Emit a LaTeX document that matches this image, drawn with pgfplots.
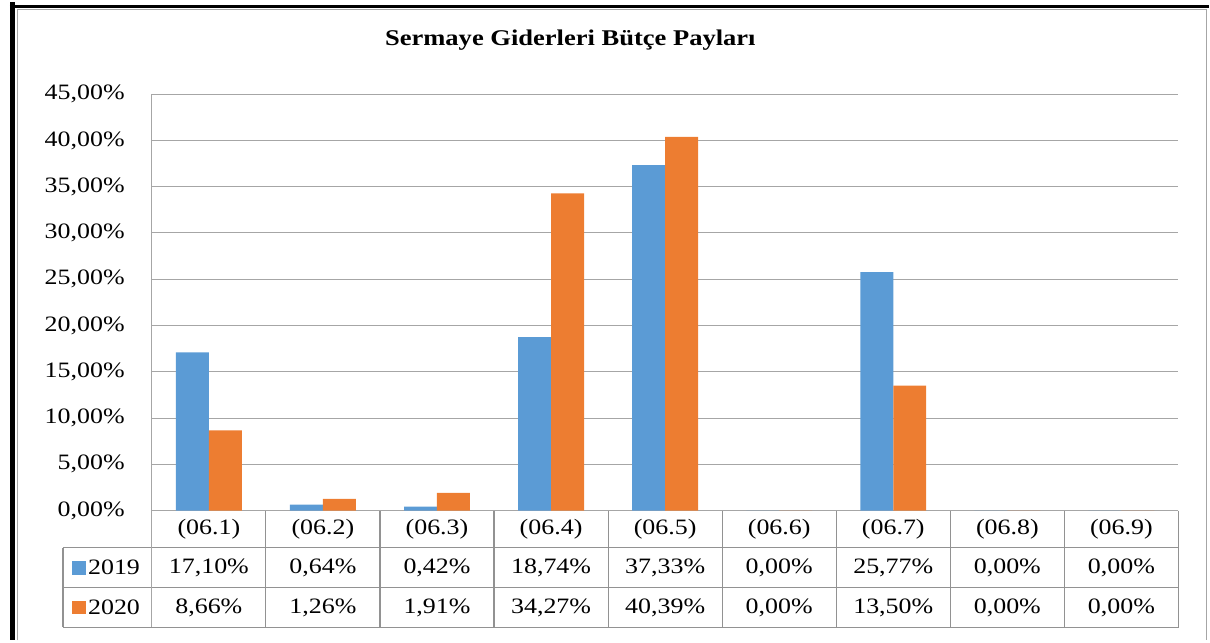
\documentclass[border=0pt]{standalone}
\usepackage{fontspec}
\setmainfont{Liberation Serif}
\usepackage{graphicx}
\usepackage{pgfplots}
\pgfplotsset{compat=1.18}
\usepackage{pgfplotstable}

\definecolor{c2019}{HTML}{5B9BD5}
\definecolor{c2020}{HTML}{ED7D31}
\definecolor{gridc}{HTML}{A6A6A6}
\definecolor{tabc}{HTML}{929292}

% budget shares, per cent
\pgfplotstableread{
x y19 y20
0 17.10 8.66
1 0.64 1.26
2 0.42 1.91
3 18.74 34.27
4 37.33 40.39
5 0.00 0.00
6 25.77 13.50
7 0.00 0.00
8 0.00 0.00
}\shares

% the reference is stretched sideways
\newcommand{\hs}[1]{\scalebox{1.18}[1]{#1}}
\newcommand{\pct}[1]{\hs{\pgfmathprintnumber[fixed,fixed zerofill,precision=2,use comma]{#1}\%}}

\begin{document}
\begin{tikzpicture}[x=1pt,y=1pt,font=\fontsize{22}{26}\selectfont]
\path (0,0) rectangle (1210,639);

\begin{axis}[
    at={(152pt,130pt)}, anchor=south west,
    scale only axis, width=1028pt, height=417pt,
    xmin=-0.5, xmax=8.5, ymin=0, ymax=45,
    clip=false,
    axis line style={draw=none},
    major tick length=0pt,
    ymajorgrids,
    grid style={gridc, line width=1pt},
    ytick={0,5,...,45},
    /pgf/number format/assume math mode=true,
    yticklabel={\pct{\tick}},
    yticklabel style={anchor=east, inner sep=0pt, xshift=-27pt},
    xtick={0,...,8},
    xticklabels={\hs{(06.1)},\hs{(06.2)},\hs{(06.3)},\hs{(06.4)},\hs{(06.5)},\hs{(06.6)},\hs{(06.7)},\hs{(06.8)},\hs{(06.9)}},
    xticklabel style={anchor=center, inner sep=0pt, yshift=-18.5pt},
]
\addplot[ybar, bar width=33pt, bar shift=-16.5pt, fill=c2019, draw=none] table[x=x, y=y19] {\shares};
\addplot[ybar, bar width=33pt, bar shift=16.5pt, fill=c2020, draw=none] table[x=x, y=y20] {\shares};
% data table rows
\addplot[draw=none, mark=none, point meta=explicit,
    nodes near coords={\pct{\pgfplotspointmeta}},
    nodes near coords style={anchor=center, inner sep=0pt}]
    table[x=x, y expr=-6.151, meta=y19] {\shares};
\addplot[draw=none, mark=none, point meta=explicit,
    nodes near coords={\pct{\pgfplotspointmeta}},
    nodes near coords style={anchor=center, inner sep=0pt}]
    table[x=x, y expr=-10.468, meta=y20] {\shares};
\end{axis}

% table grid
\begin{scope}[tabc, line width=1.2pt]
  \draw (63,93) -- (1180,93) (63,53) -- (1180,53) (63,13) -- (1180,13);
  \draw (63,93) -- (63,13);
  \foreach \k in {1,...,9}
    \draw ({152+\k*114.222},130) -- ({152+\k*114.222},13);
\end{scope}
\draw[gridc, line width=1.2pt] (152,547) -- (152,13);

% legend keys
\fill[c2019] (72,66) rectangle (86,80);
\fill[c2020] (72,26) rectangle (86,40);
\node[anchor=west, inner sep=0pt] at (88,73) {\hs{2019}};
\node[anchor=west, inner sep=0pt] at (88,33) {\hs{2020}};

% title
\node[font=\fontsize{22.5}{26}\selectfont\bfseries] at (571,601) {\hs{Sermaye Giderleri Bütçe Payları}};

% frame
\draw[black, line width=4.5pt] (12.5,639) -- (12.5,0);
\draw[black, line width=3pt] (10,634.5) -- (1210,634.5);
\draw[gridc, line width=1pt] (17.5,0) -- (17.5,631.5) -- (1208,631.5) -- (1208,0);
\end{tikzpicture}
\end{document}
